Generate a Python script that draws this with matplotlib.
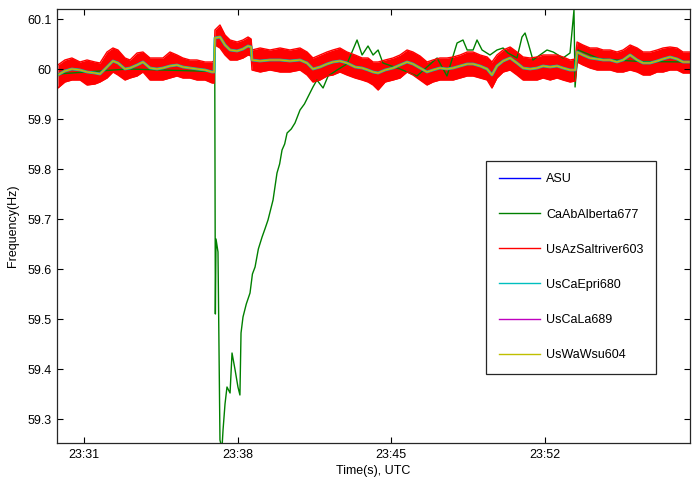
import numpy as np
import matplotlib.pyplot as plt
from matplotlib.lines import Line2D

plt.rcParams['font.family'] = ['Liberation Sans', 'DejaVu Sans']
plt.rcParams['font.size'] = 9

# time axis: minutes after 23:00 UTC
band_t = [29.81, 30.13, 30.45, 30.82, 31.14, 31.50, 31.73, 32.05, 32.32, 32.55,
          32.87, 33.10, 33.42, 33.69, 34.01, 34.33, 34.60, 34.92, 35.24, 35.51,
          35.83, 36.15, 36.52, 36.84, 36.93, 36.97, 37.20, 37.43, 37.66, 37.98,
          38.25, 38.48, 38.62, 38.66, 39.03, 39.48, 39.94, 40.39, 40.85, 41.17,
          41.44, 41.76, 42.08, 42.35, 42.67, 42.99, 43.36, 43.68, 43.95, 44.18,
          44.41, 44.73, 45.09, 45.41, 45.73, 46.00, 46.32, 46.64, 46.91, 47.23,
          47.55, 47.83, 48.15, 48.47, 48.74, 49.06, 49.38, 49.60, 49.83, 50.11,
          50.43, 50.74, 51.02, 51.34, 51.66, 51.93, 52.25, 52.57, 52.84, 53.16,
          53.40, 53.48, 53.75, 54.07, 54.39, 54.67, 54.99, 55.30, 55.58, 55.90,
          56.22, 56.49, 56.81, 57.13, 57.40, 57.72, 58.04, 58.31, 58.63]

# UsAzSaltriver603 noise envelope (upper / lower)
saltriver_hi = [60.008, 60.018, 60.022, 60.014, 60.018, 60.014, 60.012, 60.034, 60.042, 60.038,
                60.022, 60.018, 60.032, 60.034, 60.022, 60.022, 60.022, 60.034, 60.028, 60.022,
                60.018, 60.018, 60.014, 60.014, 60.016, 60.078, 60.088, 60.068, 60.058, 60.054,
                60.058, 60.064, 60.060, 60.038, 60.042, 60.038, 60.042, 60.038, 60.042, 60.034,
                60.022, 60.028, 60.034, 60.038, 60.042, 60.034, 60.028, 60.022, 60.022, 60.014,
                60.014, 60.018, 60.022, 60.028, 60.038, 60.034, 60.026, 60.014, 60.018, 60.022,
                60.022, 60.024, 60.028, 60.034, 60.034, 60.028, 60.024, 60.014, 60.028, 60.038,
                60.044, 60.034, 60.024, 60.022, 60.024, 60.028, 60.028, 60.028, 60.024, 60.018,
                60.020, 60.054, 60.048, 60.042, 60.042, 60.038, 60.038, 60.034, 60.038, 60.048,
                60.042, 60.034, 60.034, 60.038, 60.042, 60.044, 60.042, 60.034, 60.034]
saltriver_lo = [59.962, 59.974, 59.978, 59.978, 59.968, 59.970, 59.974, 59.982, 59.994, 59.988,
                59.978, 59.982, 59.986, 59.994, 59.978, 59.978, 59.978, 59.982, 59.986, 59.982,
                59.982, 59.978, 59.978, 59.972, 59.972, 60.048, 60.042, 60.028, 60.018, 60.018,
                60.022, 60.028, 60.026, 59.998, 59.994, 59.998, 59.994, 59.994, 59.998, 59.988,
                59.974, 59.978, 59.986, 59.988, 59.994, 59.988, 59.982, 59.978, 59.974, 59.968,
                59.958, 59.974, 59.978, 59.982, 59.994, 59.988, 59.978, 59.968, 59.974, 59.978,
                59.978, 59.978, 59.982, 59.986, 59.986, 59.982, 59.978, 59.962, 59.982, 59.994,
                59.998, 59.988, 59.978, 59.978, 59.978, 59.982, 59.978, 59.982, 59.978, 59.974,
                59.976, 60.014, 60.008, 60.002, 59.998, 59.998, 59.998, 59.994, 59.994, 59.998,
                59.994, 59.988, 59.988, 59.994, 59.994, 59.998, 59.998, 59.992, 59.992]
# smooth trace shared by ASU / UsCaEpri680 / UsCaLa689 / UsWaWsu604
mean_hz = [59.988, 59.996, 60.000, 59.998, 59.994, 59.992, 59.990, 60.004, 60.016, 60.012,
           60.000, 60.002, 60.008, 60.014, 60.002, 60.000, 60.002, 60.006, 60.008, 60.004,
           60.002, 60.000, 59.998, 59.994, 59.994, 60.062, 60.064, 60.048, 60.038, 60.036,
           60.040, 60.046, 60.044, 60.018, 60.016, 60.018, 60.018, 60.016, 60.018, 60.012,
           60.000, 60.004, 60.010, 60.014, 60.016, 60.012, 60.004, 60.002, 59.998, 59.994,
           59.992, 59.998, 60.002, 60.008, 60.014, 60.010, 60.002, 59.994, 59.998, 60.002,
           60.000, 60.002, 60.006, 60.010, 60.010, 60.006, 60.000, 59.988, 60.006, 60.016,
           60.022, 60.012, 60.002, 60.000, 60.002, 60.006, 60.004, 60.006, 60.002, 59.998,
           59.998, 60.034, 60.028, 60.022, 60.020, 60.018, 60.018, 60.014, 60.018, 60.028,
           60.018, 60.012, 60.012, 60.016, 60.020, 60.024, 60.020, 60.014, 60.014]

alberta_t = [29.81, 33.00, 36.93, 36.96, 36.99, 37.02, 37.11, 37.20, 37.29, 37.34,
             37.43, 37.52, 37.66, 37.75, 37.89, 38.02, 38.11, 38.16, 38.25, 38.40,
             38.57, 38.68, 38.80, 38.95, 39.12, 39.25, 39.39, 39.62, 39.80, 39.92,
             40.03, 40.15, 40.26, 40.45, 40.62, 40.85, 41.05, 41.21, 41.44, 41.62,
             41.90, 42.13, 42.54, 42.99, 43.45, 43.68, 43.95, 44.18, 44.41, 44.63,
             45.41, 46.18, 47.10, 47.55, 48.01, 48.28, 48.47, 48.74, 48.92, 49.15,
             49.51, 49.83, 50.11, 50.33, 50.74, 50.97, 51.11, 51.25, 51.47, 52.11,
             52.39, 52.84, 53.16, 53.34, 53.39, 53.53, 54.53, 56.35, 58.63]
alberta_hz = [59.990, 60.000, 59.995, 60.050, 59.510, 59.660, 59.634, 59.258, 59.240, 59.278,
              59.330, 59.364, 59.352, 59.432, 59.398, 59.364, 59.348, 59.472, 59.504, 59.530,
              59.552, 59.590, 59.604, 59.640, 59.664, 59.680, 59.698, 59.738, 59.792, 59.810,
              59.838, 59.850, 59.872, 59.880, 59.892, 59.918, 59.930, 59.944, 59.964, 59.978,
              59.962, 59.986, 59.998, 60.010, 60.058, 60.028, 60.046, 60.028, 60.038, 60.012,
              60.000, 59.986, 60.022, 59.986, 60.052, 60.058, 60.038, 60.038, 60.058, 60.038,
              60.028, 60.038, 60.042, 60.032, 60.022, 60.064, 60.072, 60.052, 60.018, 60.038,
              60.034, 60.022, 60.032, 60.118, 59.964, 60.038, 60.020, 60.015, 60.014]

names = ['ASU', 'CaAbAlberta677', 'UsAzSaltriver603', 'UsCaEpri680', 'UsCaLa689', 'UsWaWsu604']
colors = [(0, 0, 1), (0, 0.5, 0), (1, 0, 0), (0, 0.75, 0.75), (0.75, 0, 0.75), (0.75, 0.75, 0)]

xticks = [31, 38, 45, 52]
xticklabels = ['23:31', '23:38', '23:45', '23:52']
yticks = [59.3, 59.4, 59.5, 59.6, 59.7, 59.8, 59.9, 60.0, 60.1]
yticklabels = ['59.3', '59.4', '59.5', '59.6', '59.7', '59.8', '59.9', '60', '60.1']

fig = plt.figure(figsize=(6.92, 4.82), dpi=100)
ax = fig.add_axes([57 / 692, 39 / 482, 633 / 692, 434 / 482])

ax.plot(band_t, mean_hz, color=colors[0], lw=1)
ax.plot(alberta_t, alberta_hz, color=colors[1], lw=1)
ax.fill_between(band_t, saltriver_lo, saltriver_hi, color=colors[2], lw=0)
ax.plot(band_t, saltriver_hi, color=colors[2], lw=1)
ax.plot(band_t, saltriver_lo, color=colors[2], lw=1)
ax.plot(band_t, mean_hz, color=colors[3], lw=2.0)
ax.plot(band_t, mean_hz, color=colors[4], lw=0.8)
ax.plot(band_t, mean_hz, color=colors[5], lw=1.1)

ax.set_xlim(29.77, 58.63)
ax.set_ylim(59.252, 60.12)
ax.set_xticks(xticks)
ax.set_xticklabels(xticklabels)
ax.set_yticks(yticks)
ax.set_yticklabels(yticklabels)
ax.tick_params(direction='in', top=True, right=True, length=4, width=0.8, pad=4)
for s in ax.spines.values():
    s.set_linewidth(0.9)
    s.set_color('#262626')

ax.set_xlabel('Time(s), UTC', labelpad=3)
ax.set_ylabel('Frequency(Hz)', labelpad=6)

handles = [Line2D([], [], color=c, lw=1) for c in colors]
leg = ax.legend(handles, names, loc='upper left', bbox_to_anchor=(0.678, 0.650), fancybox=False,
                edgecolor='#262626', framealpha=1, handlelength=3.3, handletextpad=0.5,
                labelspacing=1.85, borderpad=1.0, borderaxespad=0)
leg.get_frame().set_linewidth(0.9)

fig.savefig('out.png', dpi=100)
